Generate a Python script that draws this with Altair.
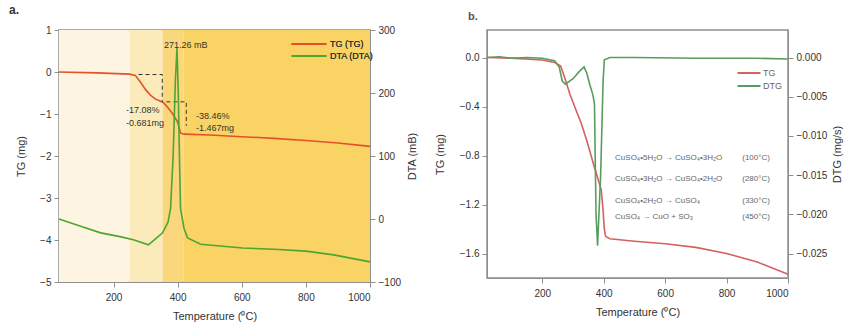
import altair as alt
import pandas as pd

FONT = "Liberation Sans"

# ---------------- Panel a ----------------
a_tg_T = [30, 150, 250, 268, 285, 300, 315, 330, 345, 356, 370, 385, 400, 409, 420, 500, 600, 700, 800, 900, 1000]
a_tg_v = [0.0, -0.02, -0.05, -0.08, -0.25, -0.42, -0.55, -0.64, -0.69, -0.73, -0.85, -1.0, -1.19, -1.45, -1.48, -1.5, -1.54, -1.58, -1.63, -1.69, -1.77]

a_dta_T = [30, 100, 160, 220, 262, 309, 330, 353, 370, 378, 386, 393, 398, 402, 406, 409, 420, 431, 472, 603, 700, 800, 887, 1000]
a_dta_v = [0, -12, -22, -28, -33, -41, -32, -22, -5, 17, 100, 220, 271.26, 200, 90, 17, -15, -30, -40, -46, -48, -51, -57, -68]

a_band_start = [30, 250, 353, 418]
a_band_end = [250, 353, 418, 1000]
a_band_color = ["#FEF4E2", "#FBEBBB", "#FAD77C", "#F9D364"]

a_dash_seg = [1, 1, 1, 2, 2, 2]
a_dash_T = [278, 352, 352, 365, 427, 427]
a_dash_v = [-0.06, -0.06, -0.71, -0.71, -0.71, -1.28]

a_note_T = [239, 239, 457, 457]
a_note_v = [-0.905, -1.214, -1.048, -1.333]
a_note_txt = ["-17.08%", "-0.681mg", "-38.46%", "-1.467mg"]

a_peak_T = [425]
a_peak_v = [276]
a_peak_txt = ["271.26 mB"]

a_series = ["TG (TG)", "DTA (DTA)"]
a_colors = ["#E4502C", "#4DA532"]

# ---------------- Panel b ----------------
b_tg_T = [20, 100, 200, 240, 260, 275, 290, 310, 326, 345, 369, 380, 392, 398, 402, 406, 420, 500, 600, 700, 800, 900, 1000]
b_tg_v = [0.0, -0.005, -0.02, -0.04, -0.07, -0.18, -0.30, -0.43, -0.53, -0.68, -0.89, -0.98, -1.08, -1.25, -1.40, -1.46, -1.48, -1.50, -1.52, -1.55, -1.60, -1.67, -1.77]

b_dtg_T = [20, 60, 100, 150, 200, 240, 255, 265, 275, 300, 320, 336, 345, 355, 365, 370, 372, 375, 380, 390, 398, 402, 420, 500, 700, 900, 1000]
b_dtg_v = [0.0, 0.0001, -0.0001, 0.0, -0.0001, -0.0004, -0.0012, -0.0030, -0.0034, -0.0027, -0.0018, -0.0012, -0.0020, -0.0035, -0.0048, -0.0060, -0.0120, -0.0200, -0.0240, -0.0150, -0.0030, -0.0003, 0.0, 0.0, -0.0001, -0.0001, -0.0002]

b_rx_T = [437, 437, 437, 437]
b_tmp_T = [941, 941, 941, 941]
b_rx_v = [-0.82, -0.995, -1.175, -1.305]
b_rx_txt = ["CuSO₄•5H₂O → CuSO₄•3H₂O", "CuSO₄•3H₂O → CuSO₄•2H₂O", "CuSO₄•2H₂O → CuSO₄", "CuSO₄ → CuO + SO₃"]
b_tmp_txt = ["(100°C)", "(280°C)", "(330°C)", "(450°C)"]

b_series = ["TG", "DTG"]
b_colors = ["#D4625F", "#5A9C5E"]

# ---------------- build panel a ----------------
A_W, A_H = 311, 252
x_axis = alt.Axis(values=[200, 400, 600, 800, 1000], title="Temperature (⁰C)", format="d")
ax_x_a = alt.X("T:Q", scale=alt.Scale(domain=[30, 1000], nice=False, zero=False), axis=x_axis)
tg_scale_a = alt.Scale(domain=[-5, 1], nice=False, zero=False)
tg_axis_a = alt.Axis(values=[-5, -4, -3, -2, -1, 0, 1], title="TG (mg)", orient="left", format="d",
                     titlePadding=13)
dta_scale_a = alt.Scale(domain=[-100, 300], nice=False, zero=False)
dta_axis_a = alt.Axis(values=[-100, 0, 100, 200, 300], title="DTA (mB)", orient="right",
                      format="d", titleAngle=270, titleBaseline="top", titlePadding=6)
col_a = alt.Color("series:N", scale=alt.Scale(domain=a_series, range=a_colors),
                  legend=alt.Legend(title=None, orient="none", legendX=243, legendY=7,
                                    symbolType="M-2.9,0H2.9", symbolSize=144, symbolStrokeWidth=2,
                                    labelFontSize=9, labelFont=FONT, labelColor="#333",
                                    padding=0, rowPadding=0, labelOffset=14))

bands = pd.DataFrame({"s": a_band_start, "e": a_band_end, "c": a_band_color})
band_layer = alt.Chart(bands).mark_rect().encode(
    x=alt.X("s:Q", scale=alt.Scale(domain=[30, 1000], nice=False, zero=False)), x2="e:Q",
    color=alt.Color("c:N", scale=None))

tg_a = pd.DataFrame({"T": a_tg_T, "v": a_tg_v, "series": "TG (TG)"})
tg_line_a = alt.Chart(tg_a).mark_line(strokeWidth=1.6).encode(
    x=ax_x_a, y=alt.Y("v:Q", scale=tg_scale_a, axis=tg_axis_a), color=col_a)

dash_a = pd.DataFrame({"T": a_dash_T, "v": a_dash_v, "seg": a_dash_seg, "o": list(range(len(a_dash_T)))})
dash_layer = alt.Chart(dash_a).mark_line(color="#333333", strokeDash=[4, 3], strokeWidth=1).encode(
    x=ax_x_a, y=alt.Y("v:Q", scale=tg_scale_a, axis=tg_axis_a), detail="seg:N", order="o:Q")

note_a = pd.DataFrame({"T": a_note_T, "v": a_note_v, "t": a_note_txt})
note_layer = alt.Chart(note_a).mark_text(align="left", baseline="middle", font=FONT, fontSize=9,
                                         color="#333333").encode(
    x=ax_x_a, y=alt.Y("v:Q", scale=tg_scale_a, axis=tg_axis_a), text="t:N")

tg_group_a = alt.layer(tg_line_a, dash_layer, note_layer)

dta_a = pd.DataFrame({"T": a_dta_T, "v": a_dta_v, "series": "DTA (DTA)"})
dta_line_a = alt.Chart(dta_a).mark_line(strokeWidth=1.6).encode(
    x=ax_x_a, y=alt.Y("v:Q", scale=dta_scale_a, axis=dta_axis_a), color=col_a)
peak_a = pd.DataFrame({"T": a_peak_T, "v": a_peak_v, "t": a_peak_txt})
peak_layer = alt.Chart(peak_a).mark_text(align="center", baseline="middle", font=FONT, fontSize=9,
                                         color="#333333").encode(
    x=ax_x_a, y=alt.Y("v:Q", scale=dta_scale_a, axis=dta_axis_a), text="t:N")
dta_group_a = alt.layer(dta_line_a, peak_layer)

panel_a = alt.layer(band_layer, tg_group_a, dta_group_a).resolve_scale(
    y="independent", color="independent").properties(
    width=A_W, height=A_H,
    title=alt.TitleParams("a.", anchor="start", frame="group", dx=-50, offset=8,
                          fontSize=12, fontWeight="bold", font=FONT, color="#333"))

# ---------------- build panel b ----------------
B_W, B_H = 301, 248
ax_x_b = alt.X("T:Q", scale=alt.Scale(domain=[20, 1000], nice=False, zero=False), axis=x_axis)
tg_scale_b = alt.Scale(domain=[-1.8, 0.2245], nice=False, zero=False)
tg_axis_b = alt.Axis(values=[-1.6, -1.2, -0.8, -0.4, 0.0], title="TG (mg)", orient="left", format=".1f",
                     titlePadding=14)
dtg_scale_b = alt.Scale(domain=[-0.028125, 0.003508], nice=False, zero=False)
dtg_axis_b = alt.Axis(values=[-0.025, -0.02, -0.015, -0.01, -0.005, 0.0], title="DTG (mg/s)",
                      orient="right", format=".3f", titleAngle=270, titleBaseline="top",
                      titlePadding=5)
col_b = alt.Color("series:N", scale=alt.Scale(domain=b_series, range=b_colors),
                  legend=alt.Legend(title=None, orient="none", legendX=256, legendY=37,
                                    symbolType="M-2.3,0H2.3", symbolSize=100, symbolStrokeWidth=2,
                                    labelFontSize=9, labelFont=FONT, labelColor="#666",
                                    padding=0, rowPadding=2, labelOffset=8))

tg_b = pd.DataFrame({"T": b_tg_T, "v": b_tg_v, "series": "TG"})
tg_line_b = alt.Chart(tg_b).mark_line(strokeWidth=1.6).encode(
    x=ax_x_b, y=alt.Y("v:Q", scale=tg_scale_b, axis=tg_axis_b), color=col_b)
rx_b = pd.DataFrame({"T": b_rx_T, "T2": b_tmp_T, "v": b_rx_v, "t": b_rx_txt, "t2": b_tmp_txt})
rx_layer = alt.Chart(rx_b).mark_text(align="left", baseline="middle", font=FONT, fontSize=8,
                                     color="#666666").encode(
    x=ax_x_b, y=alt.Y("v:Q", scale=tg_scale_b, axis=tg_axis_b), text="t:N")
tmp_layer = alt.Chart(rx_b).mark_text(align="right", baseline="middle", font=FONT, fontSize=8,
                                      color="#666666").encode(
    x=alt.X("T2:Q", scale=alt.Scale(domain=[20, 1000], nice=False, zero=False), axis=x_axis),
    y=alt.Y("v:Q", scale=tg_scale_b, axis=tg_axis_b), text="t2:N")
tg_group_b = alt.layer(tg_line_b, rx_layer, tmp_layer)

dtg_b = pd.DataFrame({"T": b_dtg_T, "v": b_dtg_v, "series": "DTG"})
dtg_line_b = alt.Chart(dtg_b).mark_line(strokeWidth=1.6).encode(
    x=ax_x_b, y=alt.Y("v:Q", scale=dtg_scale_b, axis=dtg_axis_b), color=col_b)

panel_b = alt.layer(tg_group_b, dtg_line_b).resolve_scale(y="independent").properties(
    width=B_W, height=B_H,
    title=alt.TitleParams("b.", anchor="start", frame="group", dx=-19, offset=8,
                          fontSize=11, fontWeight="bold", font=FONT, color="#555"))

chart = alt.hconcat(panel_a, panel_b, spacing=14).resolve_scale(color="independent").properties(
    padding={"left": 8, "top": 3, "right": 5, "bottom": 5}
).configure_view(stroke="#8f8f8f", strokeWidth=1.5).configure_axis(
    labelFont=FONT, titleFont=FONT, labelFontSize=10, titleFontSize=11, titleFontWeight="normal",
    labelColor="#333333", titleColor="#333333", domainColor="#8f8f8f", tickColor="#8f8f8f",
    tickSize=5, grid=False, labelPadding=3
).configure_axisX(labelPadding=5, titlePadding=8)

chart.save("out.html", embed_options={"renderer": "svg", "actions": False})
